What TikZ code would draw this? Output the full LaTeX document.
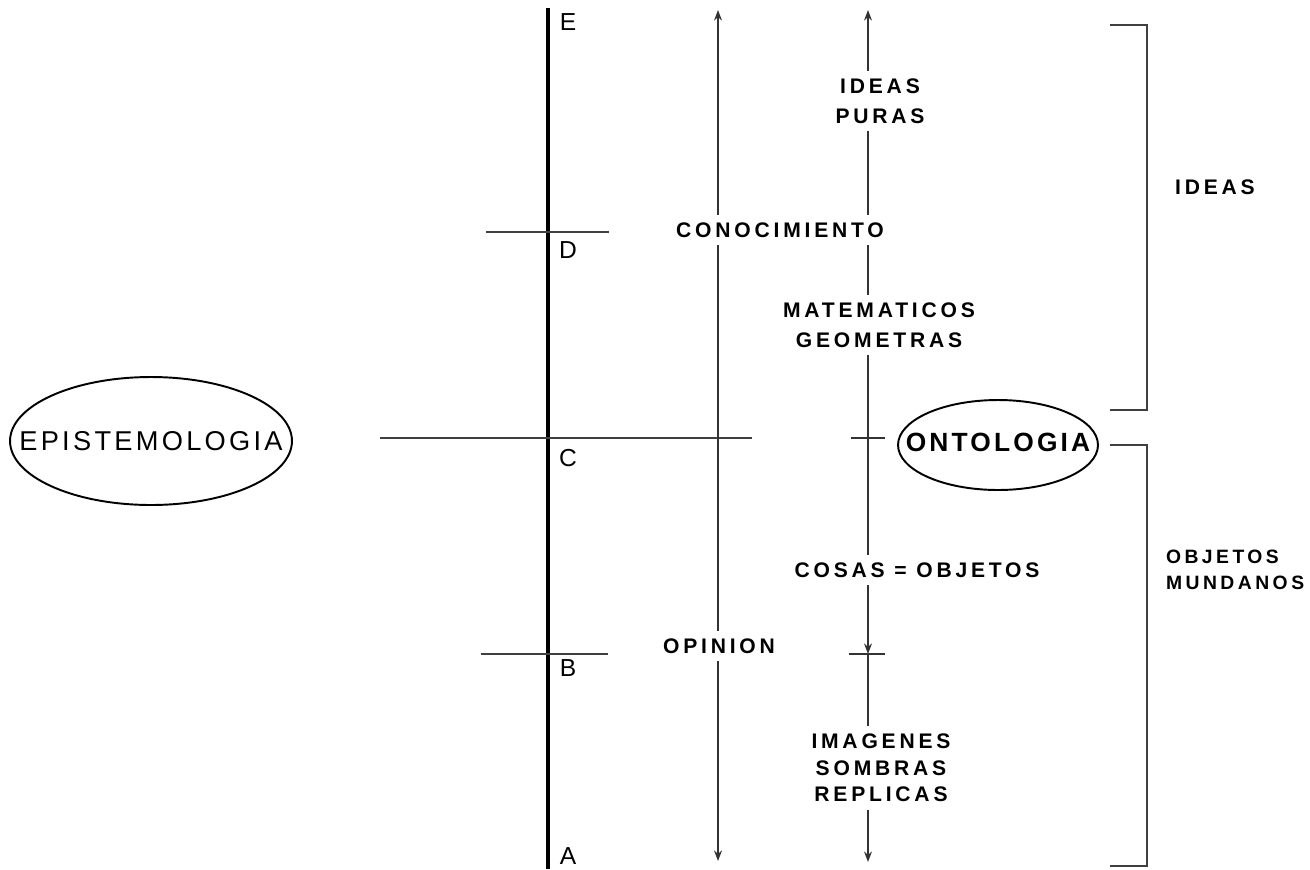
\documentclass[tikz,border=0pt]{standalone}
\usepackage{fontspec}
\setsansfont{Liberation Sans}
\newfontfamily\lblfont[LetterSpace=18]{Liberation Sans}
\newfontfamily\ovalfont[LetterSpace=12]{Liberation Sans}
\usetikzlibrary{arrows.meta}

\begin{document}
\begin{tikzpicture}[
    x=0.02cm, y=-0.02cm,
    line width=1.1pt,
    >={Stealth[length=6pt,width=4.5pt]},
    every node/.style={font=\sffamily},
    lbl/.style={font=\lblfont\bfseries\fontsize{12}{17}\selectfont, align=center, inner sep=4pt},
    oval/.style={inner sep=0pt, font=\ovalfont\fontsize{15.5}{18}\selectfont},
    point/.style={font=\sffamily\fontsize{14}{16}\selectfont, inner sep=0pt}
]
\useasboundingbox (0,0) rectangle (1310,869);

% Main line E -- A
\coordinate (E) at (548,8);
\coordinate (A) at (548,869);
\draw[line width=2.4pt] (E) -- (A);

% Point letters
\foreach \y/\l in {22/E, 250/D, 458/C, 668/B, 856/A} {
    \node[point] (pt\l) at (568,\y) {\l};
}

% Cross lines at D, C and B
\draw[black!75] (486,232) -- (609,232);
\draw[black!75] (380,438) -- (752,438);
\draw[black!75] (481,654) -- (608,654);

% The two ovals
\node[oval] (episte) at (151,441) {EPISTEMOLOGIA};
\draw (episte.center) ellipse [x radius=2.82cm, y radius=1.28cm];
\node[oval, font=\ovalfont\bfseries\fontsize{15}{18}\selectfont] (onto) at (998,442) {ONTOLOGIA};
\draw ([yshift=-0.06cm]onto.center) ellipse [x radius=2cm, y radius=0.9cm];

% Middle arrow
\coordinate (mtop) at (718,10);
\coordinate (mbot) at (718,861);
\node[lbl] (conoc) at (780,230) {CONOCIMIENTO};
\node[lbl] (opinion) at (719,646) {OPINION};
\draw[->, black!80] (conoc.north -| mtop) -- (mtop);
\draw[black!80] (conoc.south -| mtop) -- (opinion.north -| mtop);
\draw[->, black!80] (opinion.south -| mtop) -- (mbot);

% Right arrow with its labels
\coordinate (rtop) at (868,10);
\coordinate (rbot) at (868,862);
\coordinate (rB) at (868,654);
\node[lbl] (puras) at (880,101) {IDEAS\\PURAS};
\node[lbl] (matem) at (879,325) {MATEMATICOS\\GEOMETRAS};
\node[lbl] (cosas) at (917,570) {COSAS = OBJETOS};
\node[lbl, font=\lblfont\bfseries\fontsize{12}{15}\selectfont] (imag) at (881,768) {IMAGENES\\SOMBRAS\\REPLICAS};
\draw[->, black!80] (puras.north -| rtop) -- (rtop);
\draw[black!80] (puras.south -| rtop) -- (conoc.north -| rtop);
\draw[black!80] (conoc.south -| rtop) -- (matem.north -| rtop);
\draw[black!80] (matem.south -| rtop) -- (cosas.north -| rtop);
\draw[->, black!80] (cosas.south -| rtop) -- (rB);
\draw[black!80] (rB) -- (imag.north -| rtop);
\draw[->, black!80] (imag.south -| rtop) -- (rbot);

% Small ticks on the right arrow
\draw[black!80] (851,438) -- (885,438);
\draw[black!80] (849,654) -- (885,654);

% Brackets
\draw[black!75] (1110,25) -- (1147,25) -- (1147,410) -- (1110,410);
\draw[black!75] (1110,445) -- (1147,445) -- (1147,866) -- (1110,866);
\node[lbl] (ideas) at (1215,187) {IDEAS};
\node[lbl, align=left, anchor=west, font=\lblfont\bfseries\fontsize{11}{15}\selectfont] (objetos) at (1158,570) {OBJETOS\\MUNDANOS};

\end{tikzpicture}
\end{document}
